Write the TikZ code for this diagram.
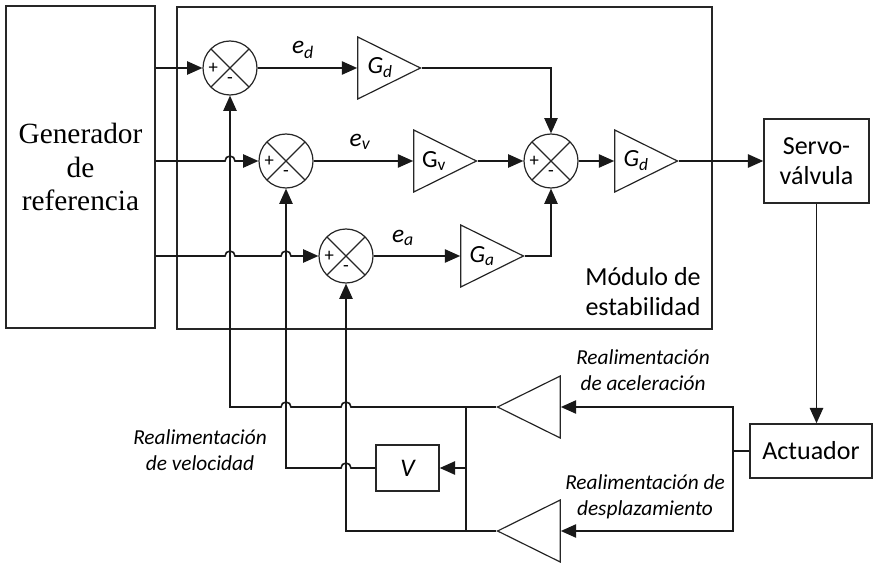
\documentclass[tikz,border=0pt]{standalone}
\usepackage{fontspec}
\setmainfont{Carlito}
\newfontfamily\genfont{Liberation Serif}
\usetikzlibrary{shapes.geometric,arrows.meta,calc}
\begin{document}
\begin{tikzpicture}[x=0.75pt,y=-0.75pt,
  ln/.style={line width=1.2pt,draw=black!90},
  arr/.style={line width=1.2pt,draw=black!90,-{Triangle[length=11.5pt,width=10pt]}},
  box/.style={draw=black!85,line width=1.1pt,inner sep=0pt},
  sumj/.style={circle,draw=black!85,line width=0.9pt,minimum size=40.5pt,inner sep=0pt,
    path picture={\draw[line width=0.9pt,black!85]
      (path picture bounding box.north west)--(path picture bounding box.south east)
      (path picture bounding box.north east)--(path picture bounding box.south west);},
    label={[font=\fontsize{14}{15}\selectfont,xshift=-12.5pt]center:+},
    label={[font=\fontsize{14}{15}\selectfont,yshift=-9.5pt]center:-}},
  amp/.style={isosceles triangle,isosceles triangle stretches,draw=black!85,line width=0.9pt,
    minimum width=46.5pt,minimum height=47pt,inner sep=0pt},
  gtxt/.style={font=\fontsize{18.5}{20}\selectfont,inner sep=0pt},
  etxt/.style={font=\itshape\fontsize{19}{20}\selectfont,inner sep=0pt},
  lbl/.style={align=center,font=\itshape\fontsize{16}{19.5}\selectfont,inner sep=0pt},
  big/.style={align=center,font=\fontsize{19.5}{22.5}\selectfont,inner sep=0pt},
  ]
\useasboundingbox (0,0) rectangle (874,563);

% boxes
\node[box,minimum width=111.75pt,minimum height=241.5pt,align=center,
  font=\genfont\fontsize{22}{25}\selectfont] (gen) at (80.5,167) {Generador\\de\\referencia};
\node[box,minimum width=401.25pt,minimum height=241.5pt] (mod) at (444.5,168) {};
\node[big] (modtxt) at (643,292) {Módulo de\\estabilidad};
\node[box,minimum width=78.75pt,minimum height=63pt,big] (servo) at (816.5,161) {Servo-\\válvula};
\node[box,minimum width=91.5pt,minimum height=40.5pt,big] (act) at (811,451) {Actuador};
\node[box,minimum width=47.25pt,minimum height=34.5pt,font=\itshape\fontsize{19}{20}\selectfont] (vb) at (407.5,468) {V};

% summing junctions
\node[sumj] (s1) at (230,68) {};
\node[sumj] (s2) at (286,161) {};
\node[sumj] (s3) at (346,256) {};
\node[sumj] (s4) at (551,161) {};

% gains
\node[amp,anchor=apex] (gd) at (422,68) {};
\node[amp,anchor=apex] (gv) at (478,161) {};
\node[amp,anchor=apex] (ga) at (525,256) {};
\node[amp,anchor=apex] (gd2) at (679,161) {};
\node[amp,anchor=apex,shape border rotate=180] (ta) at (496,407) {};
\node[amp,anchor=apex,shape border rotate=180] (td) at (496,531) {};

\node[gtxt] (gdl) at ($(gd.lower side)+(23,0)$) {\itshape G\textsubscript{d}};
\node[gtxt] (gvl) at ($(gv.lower side)+(21,0)$) {G\textsubscript{v}};
\node[gtxt] (gal) at ($(ga.lower side)+(22,0)$) {\itshape G\textsubscript{a}};
\node[gtxt] (gd2l) at ($(gd2.lower side)+(22,0)$) {\itshape G\textsubscript{d}};

% error labels
\node[etxt] (ed) at (303,50) {e\textsubscript{d}};
\node[etxt] (ev) at (360,142) {e\textsubscript{v}};
\node[etxt] (ea) at (403,238) {e\textsubscript{a}};

% feedback labels
\node[lbl] (la) at (643,370) {Realimentación\\de aceleración};
\node[lbl] (ld) at (645,497) {Realimentación de\\desplazamiento};
\node[lbl] (lv) at (200,450) {Realimentación\\de velocidad};

% reference inputs
\draw[arr] (gen.east |- s1) -- (s1.west);
\draw[arr] (gen.east |- s2) -- ($(s1|-s2)+(-5,0)$) arc[start angle=180,end angle=0,radius=3.75pt] -- (s2.west);
\draw[arr] (gen.east |- s3) -- ($(s1|-s3)+(-5,0)$) arc[start angle=180,end angle=0,radius=3.75pt]
  -- ($(s2|-s3)+(-5,0)$) arc[start angle=180,end angle=0,radius=3.75pt] -- (s3.west);

% forward path
\draw[arr] (s1.east) -- (gd.lower side);
\draw[arr] (s2.east) -- (gv.lower side);
\draw[arr] (s3.east) -- (ga.lower side);
\draw[arr] (gd.apex) -| (s4.north);
\draw[arr] (gv.apex) -- (s4.west);
\draw[arr] (ga.apex) -| (s4.south);
\draw[arr] (s4.east) -- (gd2.lower side);
\draw[arr] (gd2.apex) -- (servo.west);
\draw[arr] (servo.south) -- (servo.south |- act.north);

% feedback
\coordinate (aj) at (733,451);
\coordinate (bla) at (466,407);
\coordinate (bld) at (466,531);
\draw[ln] (act.west) -- (aj);
\draw[arr] (aj) |- (ta.lower side);
\draw[arr] (aj) |- (td.lower side);
\draw[ln] (ta.apex) -- (bla);
\draw[ln] (td.apex) -- (bld);
\draw[ln] (bla) -- (bld);
\draw[arr] (bla |- vb.east) -- (vb.east);
\draw[arr] (bla) -- ($(s3|-bla)+(5,0)$) arc[start angle=0,end angle=180,radius=3.75pt]
  -- ($(s2|-bla)+(5,0)$) arc[start angle=0,end angle=180,radius=3.75pt]
  -- (s1|-bla) -- (s1.south);
\draw[arr] (vb.west) -- ($(s3|-vb)+(5,0)$) arc[start angle=0,end angle=180,radius=3.75pt]
  -- (s2|-vb) -- (s2.south);
\draw[arr] (bld) -- (s3|-bld) -- (s3.south);
\end{tikzpicture}
\end{document}
